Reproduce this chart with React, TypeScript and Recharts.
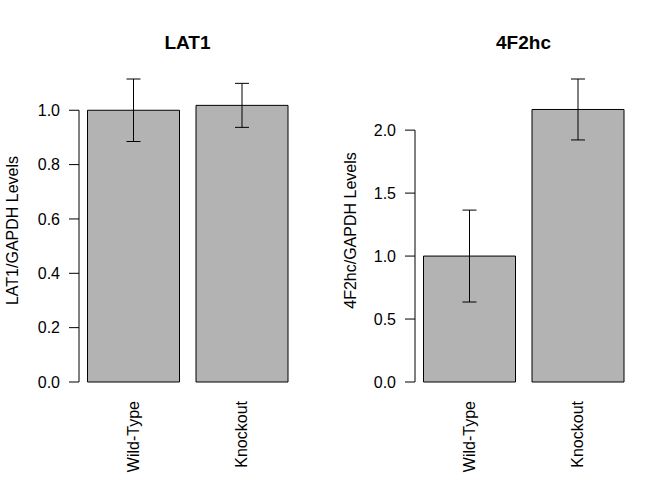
import { BarChart, Bar, XAxis, YAxis, ErrorBar, Customized } from "recharts";

const groups = ["Wild-Type", "Knockout"];

const lat1Mean = [1.0, 1.018];
const lat1Err = [0.115, 0.081];
const lat1Ticks = [0, 0.2, 0.4, 0.6, 0.8, 1.0];

const f2hcMean = [1.0, 2.164];
const f2hcErr = [0.365, 0.242];
const f2hcTicks = [0, 0.5, 1.0, 1.5, 2.0];

const W = 336;
const H = 480;
const TOP = 79;
const AXIS_W = 79;
const XAXIS_H = 98;
const RIGHT = 40;
const PLOT_H = H - TOP - XAXIS_H;
const PLOT_W = W - AXIS_W - RIGHT;
const FONT = '"Liberation Sans", Arial, Helvetica, sans-serif';

type PanelProps = {
  title: string;
  yLabel: string;
  means: number[];
  errs: number[];
  ticks: number[];
  labelX: number;
};

function Panel({ title, yLabel, means, errs, ticks, labelX }: PanelProps) {
  const data = groups.map((g, i) => ({ group: g, mean: means[i], err: errs[i] }));
  const top = Math.max(...means.map((m, i) => m + errs[i]));
  const last = ticks[ticks.length - 1];

  // R style axis: line only spans first..last tick
  const YTick = (props: any) => {
    const { x, y, payload } = props;
    return (
      <g>
        {payload.value === ticks[0] && (
          <line x1={x} x2={x} y1={y} y2={y - (PLOT_H * last) / top} stroke="#000" />
        )}
        <line x1={x - 10} x2={x} y1={y} y2={y} stroke="#000" />
        <text x={x - 19} y={y} dy="0.35em" textAnchor="end" fontSize={16} fontFamily={FONT} fill="#000">
          {payload.value.toFixed(1)}
        </text>
      </g>
    );
  };

  const XTick = (props: any) => {
    const { x, y, payload } = props;
    const ty = y + 19;
    return (
      <text
        x={x}
        y={ty}
        dy="0.35em"
        transform={`rotate(-90, ${x}, ${ty})`}
        textAnchor="end"
        fontSize={16}
        fontFamily={FONT}
        fill="#000"
      >
        {payload.value}
      </text>
    );
  };

  return (
    <BarChart
      width={W}
      height={H}
      data={data}
      margin={{ top: TOP, right: RIGHT, bottom: 0, left: 0 }}
      barCategoryGap={8.5}
    >
      <XAxis
        dataKey="group"
        height={XAXIS_H}
        axisLine={false}
        tickLine={false}
        tickSize={0}
        tickMargin={0}
        tick={<XTick />}
        interval={0}
      />
      <YAxis
        width={AXIS_W}
        domain={[0, top]}
        ticks={ticks}
        axisLine={false}
        tickLine={false}
        tickSize={0}
        tickMargin={0}
        tick={<YTick />}
        interval={0}
      />
      <Bar dataKey="mean" fill="#b3b3b3" stroke="#000" strokeWidth={1} isAnimationActive={false}>
        <ErrorBar dataKey="err" width={7} stroke="#000" strokeWidth={1} />
      </Bar>
      <Customized
        component={() => (
          <g>
            <text
              x={AXIS_W + PLOT_W / 2}
              y={49}
              textAnchor="middle"
              fontSize={19}
              fontWeight="bold"
              fontFamily={FONT}
              fill="#000"
            >
              {title}
            </text>
            <text
              x={labelX}
              y={TOP + PLOT_H / 2}
              transform={`rotate(-90, ${labelX}, ${TOP + PLOT_H / 2})`}
              textAnchor="middle"
              fontSize={16}
              fontFamily={FONT}
              fill="#000"
            >
              {yLabel}
            </text>
          </g>
        )}
      />
    </BarChart>
  );
}

export default function App() {
  return (
    <div style={{ position: "absolute", left: 0, top: 0, width: 672, height: 480, display: "flex", background: "#fff" }}>
      <Panel title="LAT1" yLabel="LAT1/GAPDH Levels" means={lat1Mean} errs={lat1Err} ticks={lat1Ticks} labelX={18} />
      <Panel title="4F2hc" yLabel="4F2hc/GAPDH Levels" means={f2hcMean} errs={f2hcErr} ticks={f2hcTicks} labelX={20} />
    </div>
  );
}
